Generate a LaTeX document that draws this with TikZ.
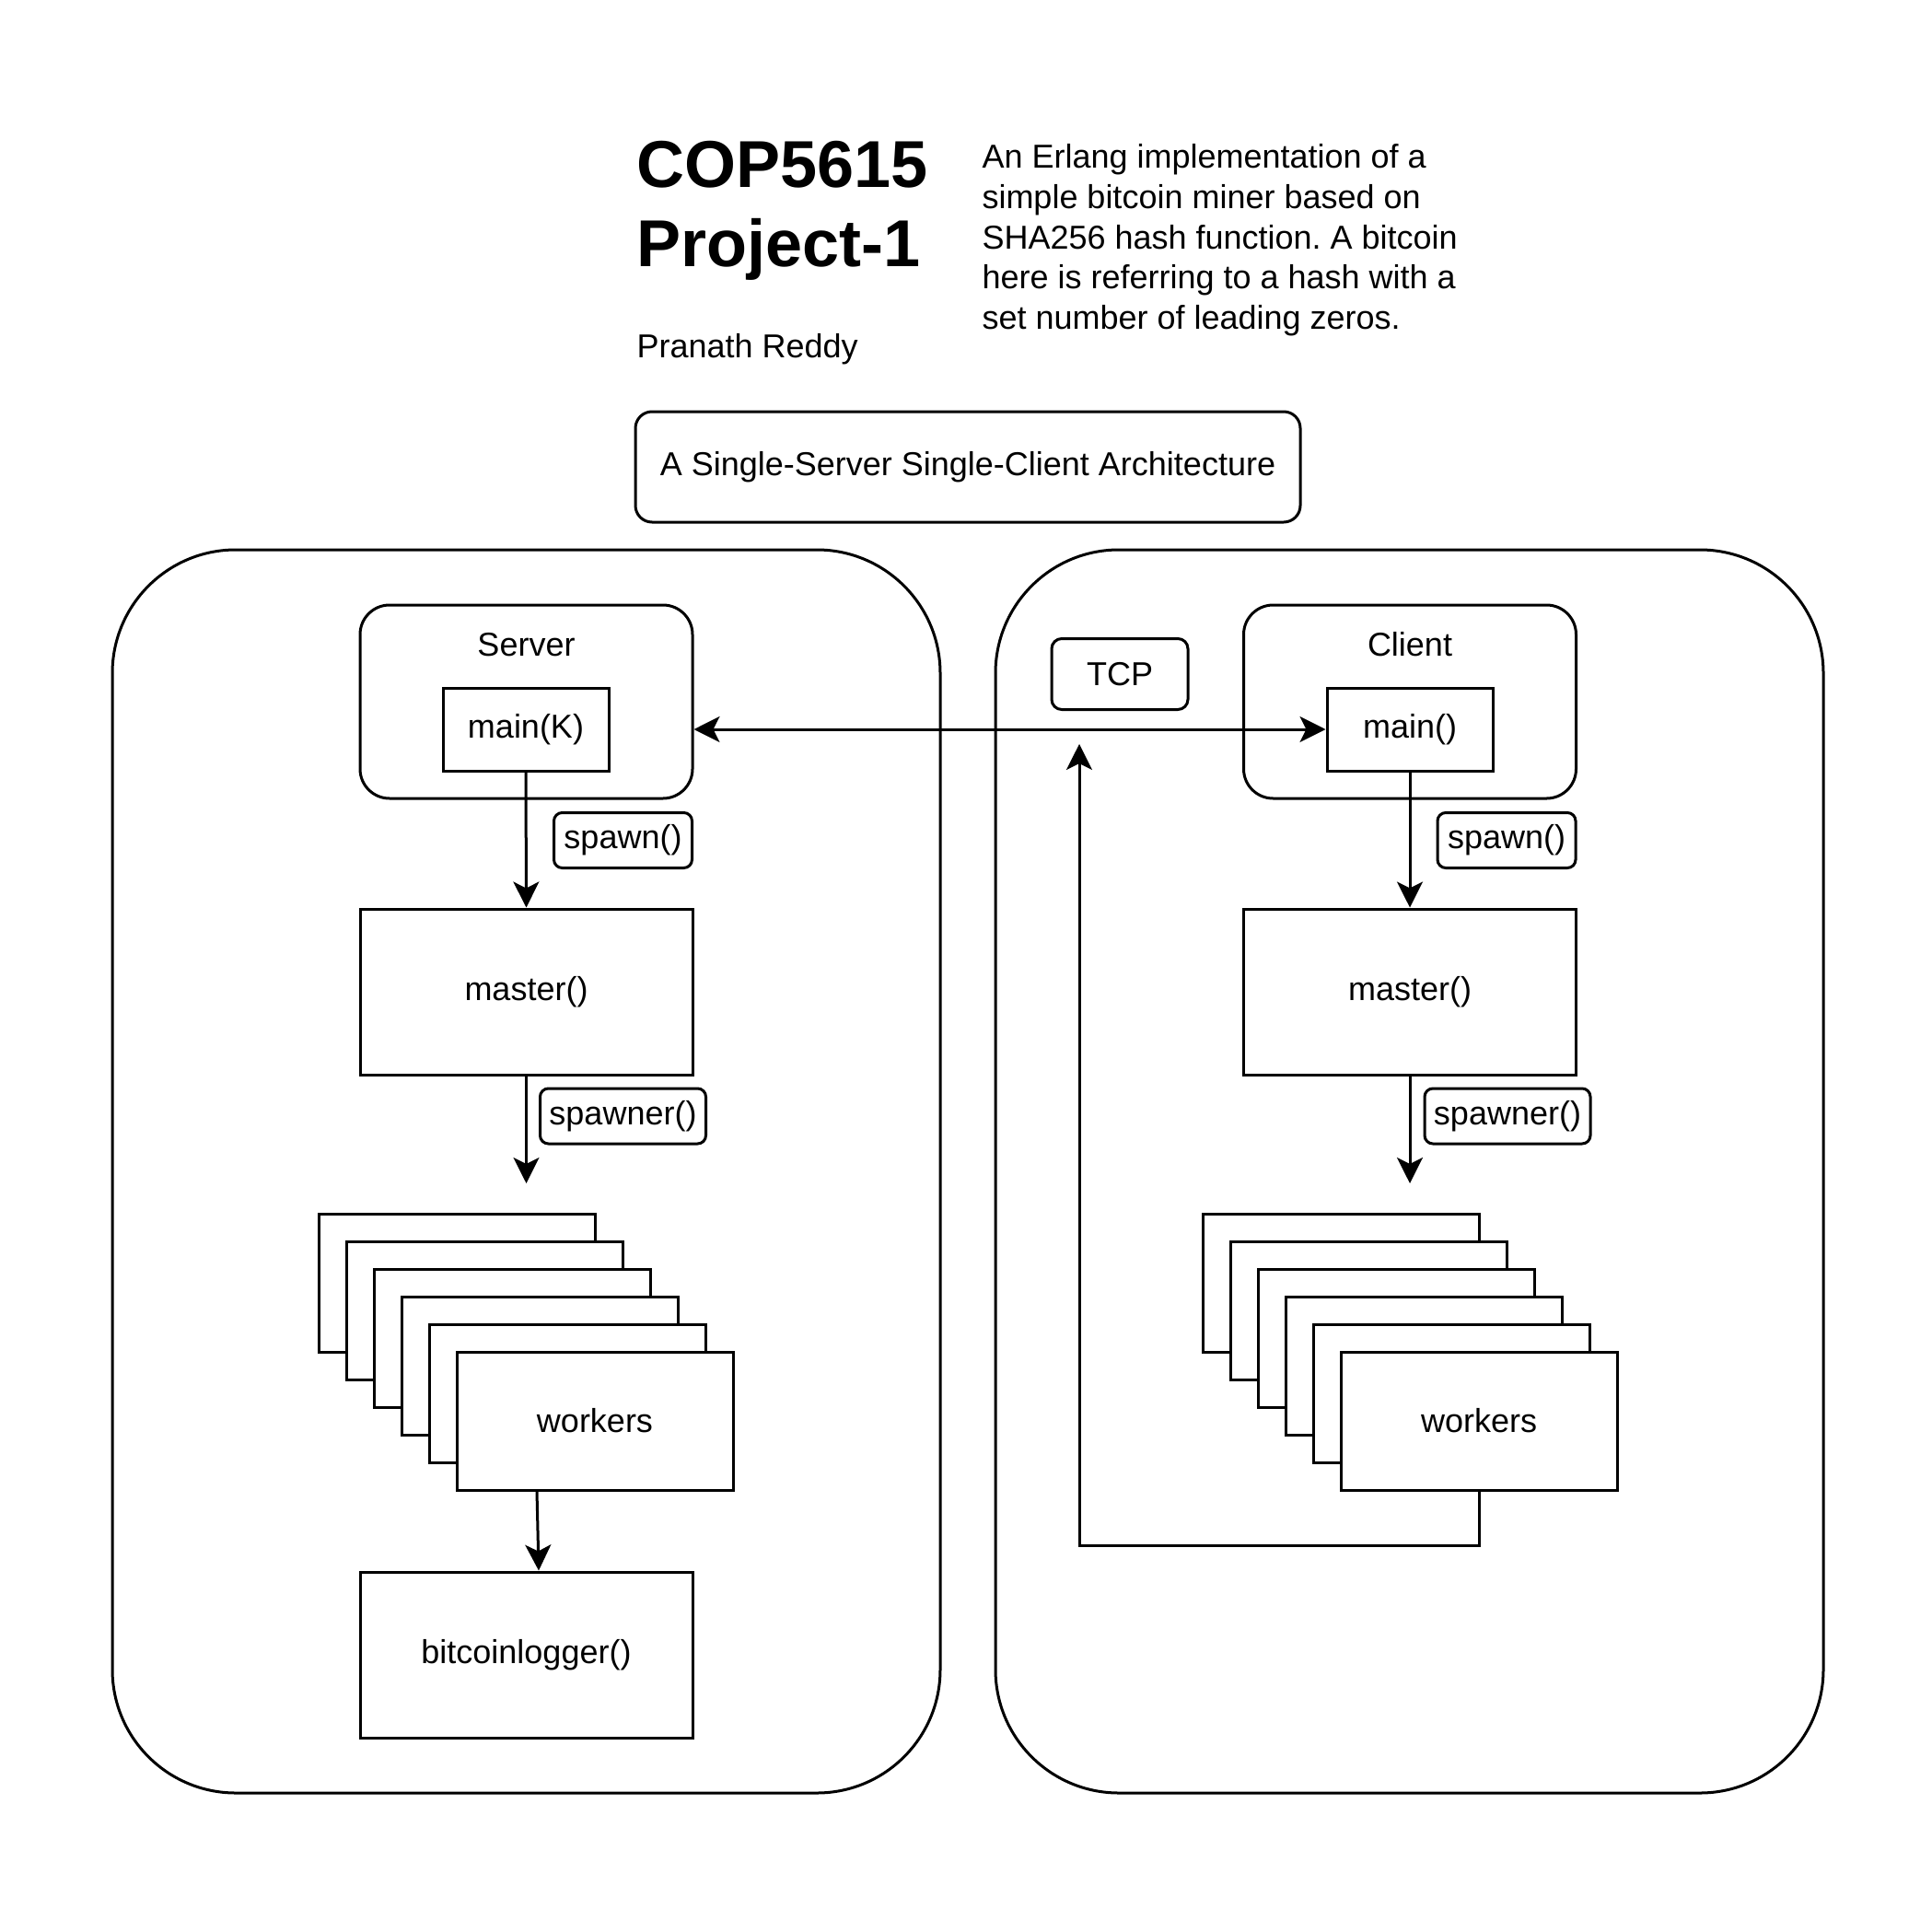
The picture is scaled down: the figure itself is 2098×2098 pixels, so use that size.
\documentclass[tikz,border=0pt]{standalone}
\usepackage{fontspec}
\setmainfont{Liberation Sans}
\usetikzlibrary{arrows.meta,calc}
\frenchspacing
\begin{document}
\begin{tikzpicture}[x=0.5pt,y=-0.5pt,line width=1.5pt,
  font=\fontsize{18}{21.6}\selectfont,
  bx/.style={draw,fill=white,inner sep=0pt,align=center},
  bigbox/.style={bx,rounded corners=67pt,minimum width=449.5pt,minimum height=675pt},
  procbox/.style={bx,rounded corners=16pt,minimum width=180.5pt,minimum height=105pt},
  mainbox/.style={bx,minimum width=90pt,minimum height=45pt},
  masterbox/.style={bx,minimum width=180.5pt,minimum height=90pt},
  wbox/.style={bx,minimum width=150pt,minimum height=75pt},
  tag/.style={bx,rounded corners=4.5pt,minimum height=30pt},
  arr/.style={-{Stealth[length=14pt,width=14pt,inset=3.5pt]}},
  biarr/.style={{Stealth[length=14pt,width=14pt,inset=3.5pt]}-{Stealth[length=14pt,width=14pt,inset=3.5pt]}},
  txt/.style={inner sep=0pt,align=left}]
\fill[white] (0,0) rectangle (2098,2098);
\useasboundingbox (0,0) rectangle (2098,2098);

% header texts
\node[txt,anchor=base west,font=\fontsize{36}{43.2}\selectfont\bfseries] (t1) at (690,203) {COP5615};
\node[txt,anchor=base west,font=\fontsize{36}{43.2}\selectfont\bfseries] (t2) at (690,289) {Project-1};
\node[txt,anchor=base west] (author) at (690,388) {Pranath Reddy};
\node[txt,anchor=base west] (d1) at (1065,183) {An Erlang implementation of a};
\node[txt,anchor=base west] (d2) at (1065,226.5) {simple bitcoin miner based on};
\node[txt,anchor=base west] (d3) at (1065,270) {SHA256 hash function. A bitcoin};
\node[txt,anchor=base west] (d4) at (1065,313.5) {here is referring to a hash with a};
\node[txt,anchor=base west] (d5) at (1065,357) {set number of leading zeros.};

\node[bx,rounded corners=9pt,minimum width=361pt,minimum height=60pt] (arch) at (1051,507) {A Single-Server Single-Client Architecture};

% big containers
\node[bigbox] (left) at (571.5,1272) {};
\node[bigbox] (right) at (1530.5,1272) {};

% server side
\node[procbox] (srv) at (571.5,762) {};
\node[txt] (srvlbl) at (571.5,700) {Server};
\node[mainbox] (mk) at (571,792) {main(K)};
\node[tag,minimum width=75pt] (spl) at (676.5,912.5) {spawn()};
\node[masterbox] (masl) at (571.5,1077) {master()};
\node[tag,minimum width=90pt] (sprl) at (676.5,1212) {spawner()};
\coordinate (endl) at (571.5,1285);
\foreach \i in {0,...,4} \node[wbox] (wl\i) at ({496+30*\i},{1393+30*\i}) {};
\node[wbox] (wl5) at (646,1543) {workers};
\node[masterbox] (logger) at (571.5,1797) {bitcoinlogger()};

% client side
\node[procbox] (cli) at (1531,762) {};
\node[txt] (clilbl) at (1531,700) {Client};
\node[mainbox] (mc) at (1531,792) {main()};
\node[tag,minimum width=75pt] (spr) at (1636,912.5) {spawn()};
\node[masterbox] (masr) at (1531,1077) {master()};
\node[tag,minimum width=90pt] (sprr) at (1637,1212) {spawner()};
\coordinate (endr) at (1531,1285);
\foreach \i in {0,...,4} \node[wbox] (wr\i) at ({1456+30*\i},{1393+30*\i}) {};
\node[wbox] (wr5) at (1606,1543) {workers};

\node[bx,rounded corners=5.5pt,minimum width=74pt,minimum height=38.5pt] (tcp) at (1216,732) {TCP};
\coordinate (tcpend) at (1172,808);

% connectors
\draw[arr] (mk.south) -- (masl.north);
\draw[arr] (masl.south) -- (endl);
\draw[arr] ([xshift=-31.5pt]wl5.south) -- ([xshift=6.75pt]logger.north);
\draw[arr] (mc.south) -- (masr.north);
\draw[arr] (masr.south) -- (endr);
\draw[arr] (wr5.south) -- ++(0,59) -| (tcpend);
\draw[biarr] (srv.east |- mk.east) -- (mc.west);
\end{tikzpicture}
\end{document}
